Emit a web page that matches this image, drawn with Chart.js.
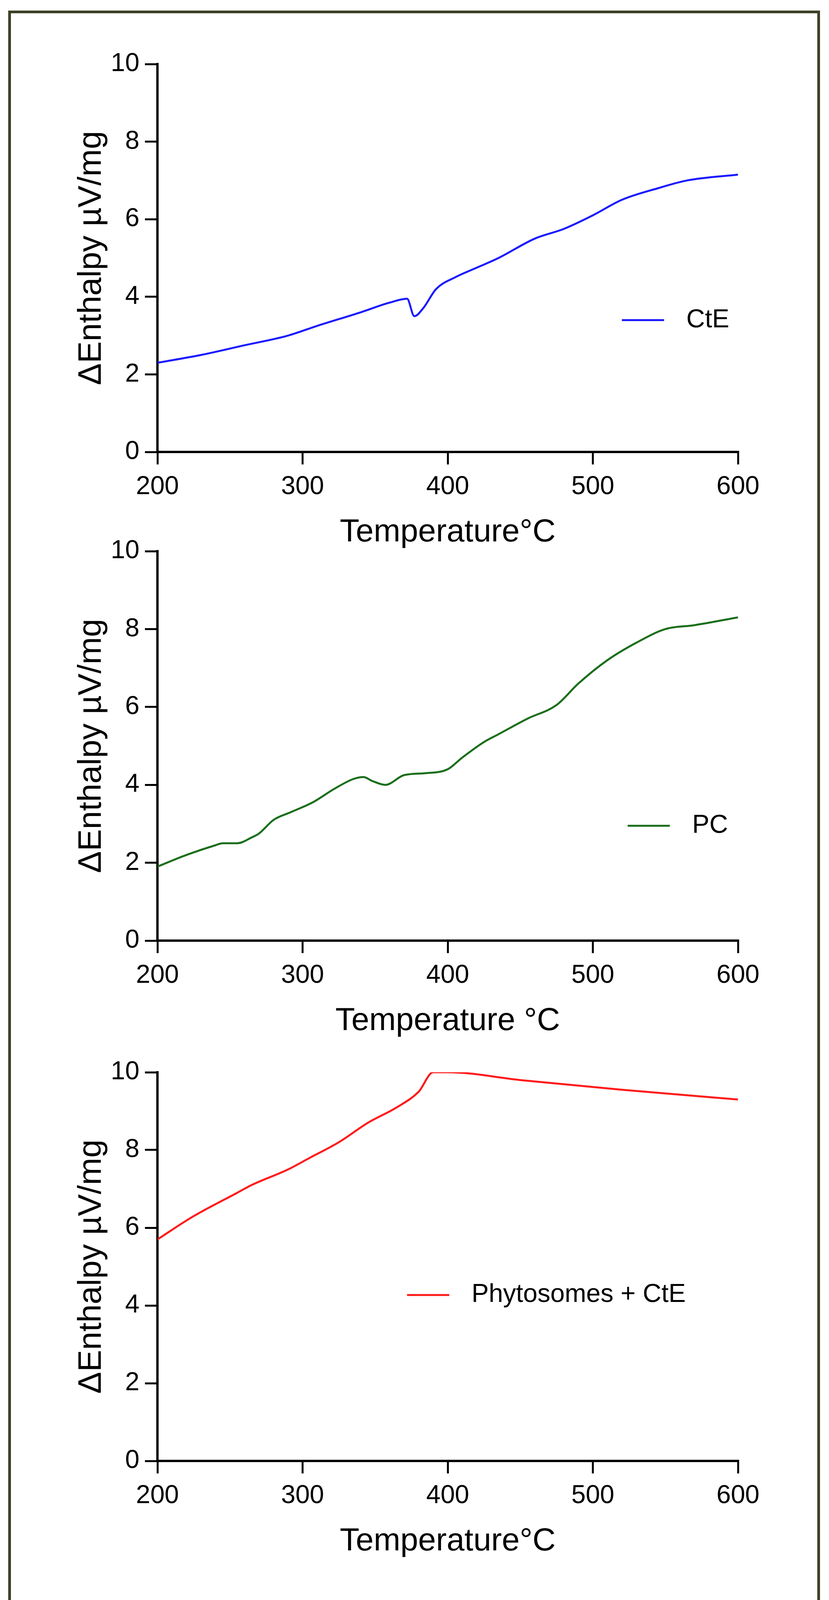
<!DOCTYPE html>
<html>
<head>
<meta charset="utf-8">
<script src="https://cdn.jsdelivr.net/npm/chart.js@4.4.0/dist/chart.umd.min.js"></script>
<style>
  body { margin: 0; background: #fff; overflow: hidden; }
  #frame { position: absolute; left: 21px; top: 27px; width: 2064px; height: 4070px; border: 7px solid #3d4127; box-sizing: content-box; }
  canvas { position: absolute; left: 0; }
</style>
</head>
<body>
<div id="frame"></div>
<canvas id="c1"></canvas>
<canvas id="c2"></canvas>
<canvas id="c3"></canvas>
<script>
// Data
const xTicks = [200, 300, 400, 500, 600];
const yTicks = [0, 2, 4, 6, 8, 10];

const cteTemp = [200, 230, 260, 290, 310, 340, 360, 372, 377, 383, 392, 405, 420, 435, 460, 480, 500, 520, 545, 565, 600];
const cteVal  = [2.3, 2.5, 2.75, 3.0, 3.25, 3.6, 3.85, 3.95, 3.5, 3.7, 4.2, 4.5, 4.75, 5.0, 5.5, 5.75, 6.1, 6.5, 6.8, 7.0, 7.15];

const pcTemp = [200, 220, 240, 245, 255, 265, 270, 280, 292, 307, 322, 335, 342, 348, 357, 370, 385, 400, 410, 425, 435, 455, 475, 490, 510, 530, 550, 570, 600];
const pcVal  = [1.9, 2.2, 2.45, 2.5, 2.5, 2.65, 2.75, 3.1, 3.3, 3.55, 3.9, 4.15, 4.2, 4.1, 4.0, 4.25, 4.3, 4.4, 4.7, 5.1, 5.3, 5.7, 6.05, 6.6, 7.2, 7.65, 8.0, 8.1, 8.3];

const phyTemp = [200, 225, 255, 265, 290, 305, 325, 345, 365, 380, 390, 400, 450, 520, 600];
const phyVal  = [5.7, 6.3, 6.9, 7.1, 7.5, 7.8, 8.2, 8.7, 9.1, 9.5, 10.0, 10.0, 9.8, 9.55, 9.3];

const FONT = "'Liberation Sans', Arial, sans-serif";
const W = 2122, PLOT_L = 403, PLOT_R = 1889, TOP_PAD = 60, X_AXIS_H = 260, LEFT_PAD = 180;

const legendPlugin = {
  id: 'inlineLegend',
  afterDraw(chart, args, opts) {
    const { ctx, chartArea } = chart;
    const x = chartArea.left + opts.fx * chartArea.width;
    const y = chartArea.top + opts.fy * chartArea.height;
    ctx.save();
    ctx.strokeStyle = opts.color;
    ctx.lineWidth = 5;
    ctx.beginPath();
    ctx.moveTo(x, y);
    ctx.lineTo(x + 108, y);
    ctx.stroke();
    ctx.fillStyle = '#000';
    ctx.font = '66px ' + FONT;
    ctx.textBaseline = 'middle';
    ctx.fillText(opts.label, x + 165, y);
    ctx.restore();
  }
};

function makePanel(id, plotTop, plotBottom, temps, vals, color, label, xTitle, fx, fy) {
  const canvas = document.getElementById(id);
  const h = (plotBottom - plotTop) + TOP_PAD + X_AXIS_H;
  canvas.style.top = (plotTop - TOP_PAD) + 'px';
  canvas.style.width = W + 'px';
  canvas.style.height = h + 'px';
  canvas.width = W;
  canvas.height = h;

  new Chart(canvas.getContext('2d'), {
    type: 'line',
    data: {
      datasets: [{
        data: temps.map((t, i) => ({ x: t, y: vals[i] })),
        borderColor: color,
        borderWidth: 5,
        pointRadius: 0,
        cubicInterpolationMode: 'monotone',
        fill: false
      }]
    },
    options: {
      responsive: false,
      animation: false,
      layout: { padding: { top: TOP_PAD, right: W - PLOT_R, left: LEFT_PAD, bottom: 0 } },
      plugins: {
        legend: { display: false },
        tooltip: { enabled: false },
        inlineLegend: { color: color, label: label, fx: fx, fy: fy }
      },
      scales: {
        x: {
          type: 'linear', min: 200, max: 600,
          afterBuildTicks: s => { s.ticks = xTicks.map(v => ({ value: v })); },
          afterFit: s => { s.height = X_AXIS_H; },
          grid: { drawOnChartArea: false, tickLength: 32, color: '#000', lineWidth: 5 },
          border: { color: '#000', width: 6 },
          ticks: { color: '#000', font: { family: FONT, size: 66 }, padding: 18, maxRotation: 0 },
          title: { display: true, text: xTitle, color: '#000', font: { family: FONT, size: 82 }, padding: { top: 38 } }
        },
        y: {
          min: 0, max: 10,
          afterBuildTicks: s => { s.ticks = yTicks.map(v => ({ value: v })); },
          afterFit: s => { s.width = PLOT_L - LEFT_PAD; },
          grid: { drawOnChartArea: false, tickLength: 32, color: '#000', lineWidth: 5 },
          border: { color: '#000', width: 6 },
          ticks: { color: '#000', font: { family: FONT, size: 66 }, padding: 14 },
          title: { display: true, text: 'ΔEnthalpy µV/mg', color: '#000', font: { family: FONT, size: 84 }, padding: { bottom: 10 } }
        }
      }
    },
    plugins: [legendPlugin]
  });
}

makePanel('c1', 164, 1157, cteTemp, cteVal, '#1a1aff', 'CtE', 'Temperature°C', 0.80, 0.66);
makePanel('c2', 1411, 2408, pcTemp, pcVal, '#1a6e1a', 'PC', 'Temperature °C', 0.81, 0.705);
makePanel('c3', 2745, 3740, phyTemp, phyVal, '#ff1a1a', 'Phytosomes + CtE', 'Temperature°C', 0.43, 0.573);
</script>
</body>
</html>
